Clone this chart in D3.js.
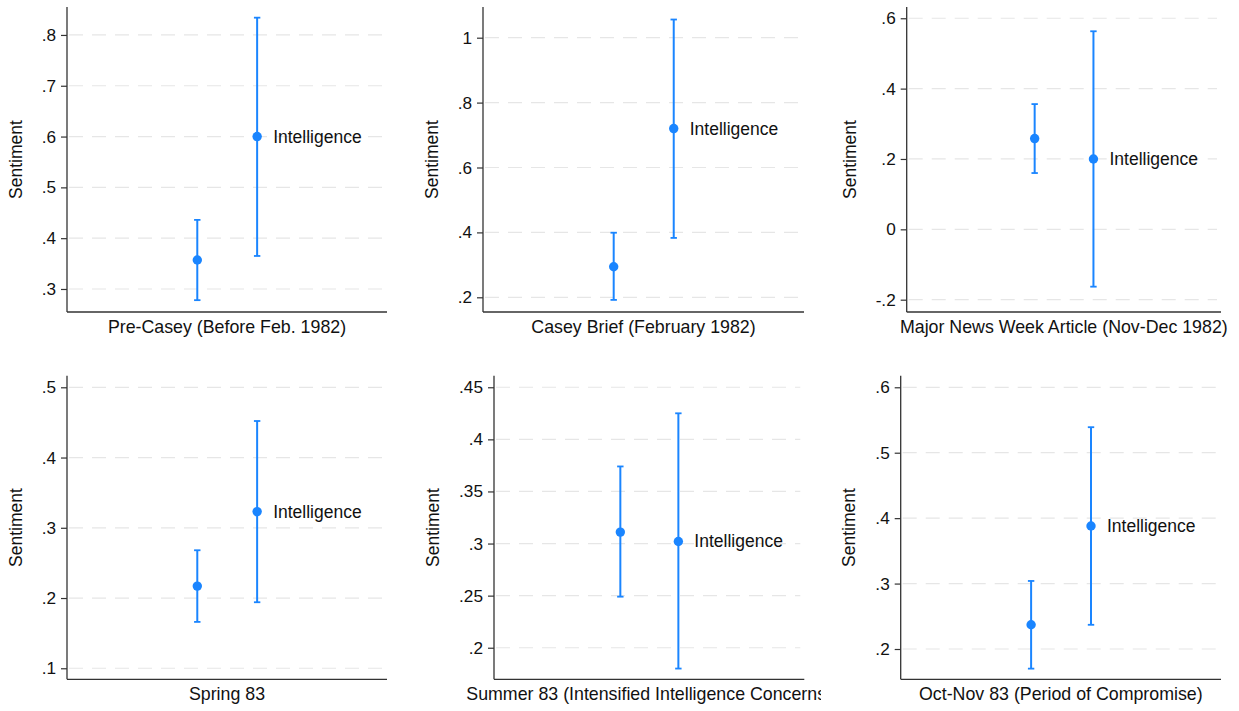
<!DOCTYPE html>
<html>
<head>
<meta charset="utf-8">
<script src="https://cdn.jsdelivr.net/npm/d3@7"></script>
<style>
  html, body { margin: 0; padding: 0; background: #fff; }
  svg { display: block; }
  text { font-family: "Liberation Sans", Arial, Helvetica, sans-serif; fill: #111; }
</style>
</head>
<body>
<svg id="chart" width="1239" height="711"></svg>
<script>
// ---- data ----
const panelTitles = [
  "Pre-Casey (Before Feb. 1982)",
  "Casey Brief (February 1982)",
  "Major News Week Article (Nov-Dec 1982)",
  "Spring 83",
  "Summer 83 (Intensified Intelligence Concerns)",
  "Oct-Nov 83 (Period of Compromise)"
];
const seriesLabels = ["", "Intelligence"];
// first estimate (unlabeled) with CI
const est1 = [0.357, 0.294, 0.258, 0.217, 0.311, 0.237];
const lo1  = [0.278, 0.192, 0.160, 0.166, 0.249, 0.170];
const hi1  = [0.436, 0.399, 0.356, 0.268, 0.374, 0.304];
// second estimate ("Intelligence") with CI
const est2 = [0.600, 0.720, 0.200, 0.323, 0.302, 0.388];
const lo2  = [0.365, 0.383, -0.163, 0.194, 0.180, 0.237];
const hi2  = [0.834, 1.056, 0.563, 0.452, 0.425, 0.539];
// y axis ticks and labels
const yTicks = [
  [0.3, 0.4, 0.5, 0.6, 0.7, 0.8],
  [0.2, 0.4, 0.6, 0.8, 1.0],
  [-0.2, 0, 0.2, 0.4, 0.6],
  [0.1, 0.2, 0.3, 0.4, 0.5],
  [0.2, 0.25, 0.3, 0.35, 0.4, 0.45],
  [0.2, 0.3, 0.4, 0.5, 0.6]
];
const yTickLabels = [
  [".3", ".4", ".5", ".6", ".7", ".8"],
  [".2", ".4", ".6", ".8", "1"],
  ["-.2", "0", ".2", ".4", ".6"],
  [".1", ".2", ".3", ".4", ".5"],
  [".2", ".25", ".3", ".35", ".4", ".45"],
  [".2", ".3", ".4", ".5", ".6"]
];
// y axis ranges (value at bottom and top of plot region)
const yDomains = [
  [0.2547, 0.855],
  [0.1547, 1.0946],
  [-0.235, 0.632],
  [0.0843, 0.5165],
  [0.1697, 0.4611],
  [0.1537, 0.6177]
];
const yTitle = "Sentiment";

// ---- layout ----
const layout = [
  { left: 67,    right: 387,   top: 7,     bottom: 312,   clipL: 0,   clipR: 410 },
  { left: 483,   right: 804,   top: 7,     bottom: 312,   clipL: 410, clipR: 822 },
  { left: 906.7, right: 1221,  top: 7,     bottom: 312,   clipL: 822, clipR: 1239 },
  { left: 67,    right: 387,   top: 375.7, bottom: 679.3, clipL: 0,   clipR: 410 },
  { left: 494,   right: 804.3, top: 375.7, bottom: 679.3, clipL: 410, clipR: 821 },
  { left: 900.7, right: 1221,  top: 375.7, bottom: 679.3, clipL: 821, clipR: 1239 }
];
const xDomain = [-1.177, 4.17];
const blue = "#1a85ff";
const tickFont = 17.2;
const labelFont = 17.5;
const titleFont = 17.8;

const svg = d3.select("#chart");
const defs = svg.append("defs");

panelTitles.forEach((title, i) => {
  const L = layout[i];
  defs.append("clipPath").attr("id", "clip" + i)
    .append("rect")
    .attr("x", L.clipL).attr("y", 0)
    .attr("width", L.clipR - L.clipL).attr("height", 711);

  const g = svg.append("g").attr("clip-path", `url(#clip${i})`);

  const x = d3.scaleLinear().domain(xDomain).range([L.left, L.right]);
  const y = d3.scaleLinear().domain(yDomains[i]).range([L.bottom, L.top]);

  // gridlines
  g.append("g").selectAll("line").data(yTicks[i]).join("line")
    .attr("x1", L.left + 2).attr("x2", L.right - 4)
    .attr("y1", d => y(d)).attr("y2", d => y(d))
    .attr("stroke", "#e6e6e6").attr("stroke-width", 1.2)
    .attr("stroke-dasharray", "14,9");

  // y axis
  const yAxis = d3.axisLeft(y).tickValues(yTicks[i])
    .tickFormat((d, k) => yTickLabels[i][k])
    .tickSize(6).tickPadding(5);
  const ya = g.append("g").attr("transform", `translate(${L.left},0)`).call(yAxis);
  ya.select(".domain").remove();
  ya.selectAll(".tick line").attr("stroke", "#333").attr("stroke-width", 1.2);
  ya.selectAll(".tick text").attr("font-size", tickFont).attr("fill", "#111")
    .style("font-family", '"Liberation Sans", Arial, Helvetica, sans-serif');

  // axis lines
  g.append("line").attr("x1", L.left).attr("x2", L.left)
    .attr("y1", L.top).attr("y2", L.bottom)
    .attr("stroke", "#333").attr("stroke-width", 1.3);
  g.append("line").attr("x1", L.left).attr("x2", L.right)
    .attr("y1", L.bottom).attr("y2", L.bottom)
    .attr("stroke", "#333").attr("stroke-width", 1.3);

  // y title
  const bb = ya.node().getBBox();
  const titleX = L.left + bb.x - 26;
  g.append("text")
    .attr("transform", `translate(${titleX},${(L.top + L.bottom) / 2}) rotate(-90)`)
    .attr("text-anchor", "middle").attr("dy", "0.35em")
    .attr("font-size", labelFont).text(yTitle);

  // x title
  g.append("text")
    .attr("x", (L.left + L.right) / 2).attr("y", L.bottom + 20.5)
    .attr("text-anchor", "middle").attr("font-size", titleFont)
    .text(title);

  // estimates
  const pts = [
    { pos: 1, est: est1[i], lo: lo1[i], hi: hi1[i], label: seriesLabels[0] },
    { pos: 2, est: est2[i], lo: lo2[i], hi: hi2[i], label: seriesLabels[1] }
  ];
  const pg = g.append("g");
  pg.selectAll("line.ci").data(pts).join("line").attr("class", "ci")
    .attr("x1", d => x(d.pos)).attr("x2", d => x(d.pos))
    .attr("y1", d => y(d.lo)).attr("y2", d => y(d.hi))
    .attr("stroke", blue).attr("stroke-width", 2);
  ["lo", "hi"].forEach(k => {
    pg.selectAll("line.cap" + k).data(pts).join("line").attr("class", "cap" + k)
      .attr("x1", d => x(d.pos) - 3.2).attr("x2", d => x(d.pos) + 3.2)
      .attr("y1", d => y(d[k])).attr("y2", d => y(d[k]))
      .attr("stroke", blue).attr("stroke-width", 1.8);
  });
  pg.selectAll("circle").data(pts).join("circle")
    .attr("cx", d => x(d.pos)).attr("cy", d => y(d.est)).attr("r", 4.7)
    .attr("fill", blue);
  pg.selectAll("text.lbl").data(pts.filter(d => d.label)).join("text").attr("class", "lbl")
    .attr("x", d => x(d.pos) + 16).attr("y", d => y(d.est) + 6)
    .attr("font-size", labelFont).text(d => d.label);
});
</script>
</body>
</html>
